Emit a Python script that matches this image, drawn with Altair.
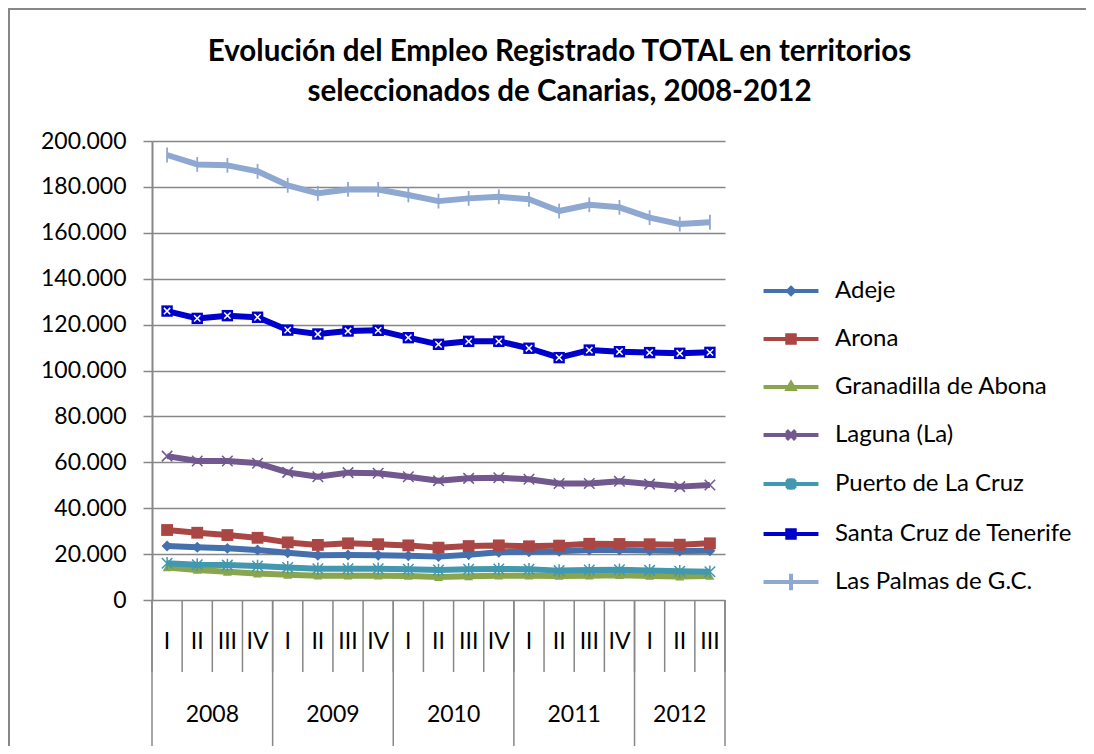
import altair as alt
import pandas as pd

# ---------------- data ----------------
title_lines = ["Evolución del Empleo Registrado TOTAL en territorios",
               "seleccionados de Canarias, 2008-2012"]
years_list = ["2008", "2009", "2010", "2011", "2012"]
quarters_per_year = [4, 4, 4, 4, 3]
quarter_names = ["I", "II", "III", "IV"]

series_names = [
    "Adeje",
    "Arona",
    "Granadilla de Abona",
    "Laguna (La)",
    "Puerto de La Cruz",
    "Santa Cruz de Tenerife",
    "Las Palmas de G.C.",
]
series_colors = ["#4471AE", "#AA4643", "#89A54E", "#71588F", "#4198AF", "#0000CC", "#8EA8D2"]

adeje = [23500, 23000, 22500, 21800, 20600, 19500, 19600, 19500, 19300, 18900,
         19700, 20800, 21000, 21200, 21800, 21800, 21600, 21300, 21500]
arona = [30500, 29300, 28300, 27100, 25100, 24000, 24700, 24300, 23800, 22800,
         23500, 23800, 23400, 23700, 24500, 24400, 24300, 24100, 24700]
granadilla = [14200, 13100, 12300, 11500, 11000, 10600, 10600, 10600, 10500, 10000,
              10300, 10600, 10600, 10500, 10600, 10800, 10500, 10200, 10500]
laguna = [62700, 60600, 60600, 59600, 55600, 53700, 55500, 55200, 53700, 52000,
          53000, 53300, 52600, 50800, 50800, 51700, 50500, 49400, 50100]
puerto = [16000, 15400, 15200, 14800, 14200, 13600, 13600, 13600, 13400, 13100,
          13400, 13500, 13400, 12800, 13100, 13200, 12900, 12500, 12300]
santa_cruz = [125900, 122700, 123900, 123200, 117600, 115900, 117200, 117500, 114300, 111400,
              112700, 112700, 109700, 105600, 108900, 108200, 107800, 107500, 107900]
las_palmas = [193900, 189800, 189400, 186800, 180700, 177200, 178900, 178900, 176500, 173800,
              175000, 175700, 174600, 169500, 172200, 171100, 166600, 163800, 164600]

series_values = [adeje, arona, granadilla, laguna, puerto, santa_cruz, las_palmas]

# ---------------- tables ----------------
periods = []
for y, nq in zip(years_list, quarters_per_year):
    for q in quarter_names[:nq]:
        periods.append((y, q))
n = len(periods)

rows = []
for name, vals in zip(series_names, series_values):
    for i, ((y, q), v) in enumerate(zip(periods, vals)):
        rows.append({"idx": i, "year": y, "quarter": q, "series": name, "value": v})
df = pd.DataFrame(rows)

qdf = pd.DataFrame({"idx": list(range(n)), "quarter": [p[1] for p in periods],
                    "year": [p[0] for p in periods]})
ydf = qdf.groupby("year", as_index=False)["idx"].mean()
qbounds = pd.DataFrame({"b": [i - 0.5 for i in range(n + 1)]})
ybounds_list = [-0.5]
acc = -0.5
for nq in quarters_per_year:
    acc += nq
    ybounds_list.append(acc)
ybounds = pd.DataFrame({"b": ybounds_list})

# ---------------- layout ----------------
W, H = 573, 459
FONT = "Lato"
GRID = "#878787"

xscale = alt.Scale(domain=[-0.5, n - 0.5], nice=False, zero=False)
yscale = alt.Scale(domain=[0, 200000], nice=False)


def X(field):
    return alt.X(field, type="quantitative", scale=xscale, axis=None)


Y = alt.Y("value:Q", scale=yscale,
          axis=alt.Axis(values=list(range(0, 200001, 20000)), format=",d", title=None,
                        grid=True, gridColor=GRID, gridWidth=1.5,
                        domainColor=GRID, domainWidth=2, tickColor=GRID, tickWidth=1.5,
                        tickSize=9, labelFont=FONT, labelFontSize=23, labelColor="black",
                        labelPadding=17))

base = alt.Chart(df)

frame = alt.Chart(alt.Data(values=[{}])).mark_rect(
    fill="white", fillOpacity=0, stroke=GRID, strokeWidth=2
).encode(x=alt.value(-143), x2=alt.value(W + 400), y=alt.value(-132), y2=alt.value(H + 400))

title = alt.Chart(alt.Data(values=[{}])).mark_text(
    font=FONT, fontSize=29.5, fontWeight="bold", color="black", align="center",
    baseline="alphabetic", lineHeight=40
).encode(x=alt.value(407.5), y=alt.value(-80), text=alt.value(title_lines))

lines = base.mark_line(strokeWidth=6, strokeJoin="round").encode(
    x=X("idx"), y=Y,
    color=alt.Color("series:N", scale=alt.Scale(domain=series_names, range=series_colors), legend=None),
    detail="series:N",
)

marker_defs = {
    "Adeje": dict(shape="diamond", filled=True, size=120),
    "Arona": dict(shape="square", filled=True, size=140),
    "Granadilla de Abona": dict(shape="triangle-up", filled=True, size=80),
    "Laguna (La)": dict(shape="M-1,-1L1,1M-1,1L1,-1", filled=False, size=110, strokeWidth=1.5),
    "Puerto de La Cruz": dict(shape="M-1,-1L1,1M-1,1L1,-1M0,-1.2L0,1.2", filled=False, size=110, strokeWidth=1.5),
    "Santa Cruz de Tenerife": dict(shape="square", filled=True, size=130),
    "Las Palmas de G.C.": dict(shape="M0,-1L0,1", filled=False, size=220, strokeWidth=1.8),
}

point_layers = []
for name, col in zip(series_names, series_colors):
    md = marker_defs[name]
    point_layers.append(
        base.transform_filter(alt.datum.series == name)
        .mark_point(color=col, opacity=1, **md)
        .encode(x=X("idx"), y=Y)
    )

sc_x = base.transform_filter(alt.datum.series == "Santa Cruz de Tenerife").mark_point(
    shape="M-1,-1L1,1M-1,1L1,-1", filled=False, color="white", opacity=1, size=40, strokeWidth=1.5
).encode(x=X("idx"), y=Y)

legend_paths = [
    "M-1.83,0L1.83,0M0,-0.2L0.2,0L0,0.2L-0.2,0Z",
    "M-1.83,0L1.83,0M-0.25,-0.25L0.25,-0.25L0.25,0.25L-0.25,0.25Z",
    "M-1.83,0L1.83,0M0,-0.25L0.22,0.13L-0.22,0.13Z",
    "M-1.83,0L1.83,0M-0.3,-0.3L0.3,0.3M-0.3,0.3L0.3,-0.3",
    "M-1.83,0L1.83,0M-0.3,-0.3L0.3,0.3M-0.3,0.3L0.3,-0.3M0,-0.38L0,0.38",
    "M-1.83,0L1.83,0M-0.25,-0.25L0.25,-0.25L0.25,0.25L-0.25,0.25Z",
    "M-1.83,0L1.83,0M0,-0.55L0,0.55",
]

leg = alt.Legend(title=None, orient="none", legendX=622, legendY=133,
                 labelFont=FONT, labelFontSize=24, labelColor="black", labelLimit=400,
                 symbolSize=900, symbolStrokeWidth=4, rowPadding=19, labelOffset=27,
                 symbolOpacity=1, padding=0)

legend_layer = base.mark_point(filled=False, opacity=0, strokeWidth=4).encode(
    x=X("idx"), y=Y,
    stroke=alt.Stroke("series:N", scale=alt.Scale(domain=series_names, range=series_colors), legend=leg),
    shape=alt.Shape("series:N", scale=alt.Scale(domain=series_names, range=legend_paths), legend=leg),
)

qsep = alt.Chart(qbounds).mark_rule(color=GRID, strokeWidth=1.5).encode(
    x=X("b"), y=alt.value(H), y2=alt.value(H + 72))
ysep = alt.Chart(ybounds).mark_rule(color=GRID, strokeWidth=1.5).encode(
    x=X("b"), y=alt.value(H), y2=alt.value(H + 146))

qtext = alt.Chart(qdf).mark_text(font=FONT, fontSize=23, color="black", baseline="middle", align="center").encode(
    x=X("idx"), y=alt.value(H + 41.5), text="quarter:N")
ytext = alt.Chart(ydf).mark_text(font=FONT, fontSize=23, color="black", baseline="middle", align="center").encode(
    x=X("idx"), y=alt.value(H + 115), text="year:N")

chart = alt.layer(
    frame, title, legend_layer, lines, *point_layers, sc_x, qsep, ysep, qtext, ytext
).properties(
    width=W, height=H,
    autosize=alt.AutoSizeParams(type="none"),
    padding={"left": 144, "top": 133, "right": 361, "bottom": 146},
).configure(
    locale={"number": {"decimal": ",", "thousands": ".", "grouping": [3], "currency": ["", " €"]}}
).configure_view(strokeWidth=0)

chart.save("out.html", embed_options={"renderer": "svg", "actions": False})
